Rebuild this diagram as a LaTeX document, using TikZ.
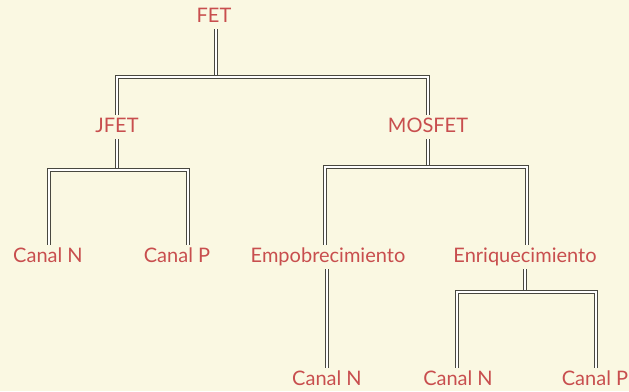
\documentclass[tikz,border=0pt]{standalone}
\usepackage{fontspec}
\setmainfont{Lato}
\usepackage{xcolor}
\usepackage{tikz}
\usetikzlibrary{positioning}
\definecolor{paper}{RGB}{250,248,226}
\definecolor{fetred}{RGB}{200,78,78}
\definecolor{wire}{RGB}{72,72,64}
\tikzset{
  lbl/.style  = {font=\fontsize{20}{22}\selectfont, text=fetred,
                 inner xsep=0pt, inner ysep=3pt, text height=14pt, text depth=4pt},
  wire/.style = {draw=wire, line width=1.1pt, double=white, double distance=2pt,
                 line join=miter},
}

\begin{document}
\begin{tikzpicture}[x=1pt, y=-1pt]

% paper and frame
\fill[paper] (0,0) rectangle (629,391);
\useasboundingbox (0,0) rectangle (629,391);

% first level
\node[lbl] (fet) at (214,17) {FET};
\node[lbl] (jfet) at (117,127) {JFET};
\node[lbl] (mosfet) at (428,127) {MOSFET};

% second level
\node[lbl] (jcn) at (48,257) {Canal N};
\node[lbl] (jcp) at (177,257) {Canal P};
\node[lbl] (empo) at (328,257) {Empobrecimiento};
\node[lbl] (enri) at (525,257) {Enriquecimiento};

% third level
\node[lbl] (ecn) at (327,380) {Canal N};
\node[lbl] (ncn) at (458,380) {Canal N};
\node[lbl] (ncp) at (595,380) {Canal P};

% FET -> JFET, MOSFET
\draw[wire] ([xshift=2pt]fet.south) -- ++(0,48) coordinate (t0);
\draw[wire] (jfet.north) |- (t0) -| (mosfet.north);

% JFET -> canales
\draw[wire] (jfet.south) -- ++(0,31) coordinate (t1);
\draw[wire] ([xshift=1pt]jcn.north) |- (t1) -| ([xshift=11pt]jcp.north);

% MOSFET -> tipos
\draw[wire] (mosfet.south) -- ++(0,28) coordinate (t2);
\draw[wire] ([xshift=-3pt]empo.north) |- (t2) -| ([xshift=2pt]enri.north);

% empobrecimiento -> canal N
\draw[wire] ([xshift=-1pt]empo.south) -- ([xshift=-1pt]empo.south |- ecn.north);

% enriquecimiento -> canales
\draw[wire] (enri.south) -- ++(0,23) coordinate (t3);
\draw[wire] ([xshift=-1pt]ncn.north) |- (t3) -| ([xshift=1pt]ncp.north);

\end{tikzpicture}
\end{document}
